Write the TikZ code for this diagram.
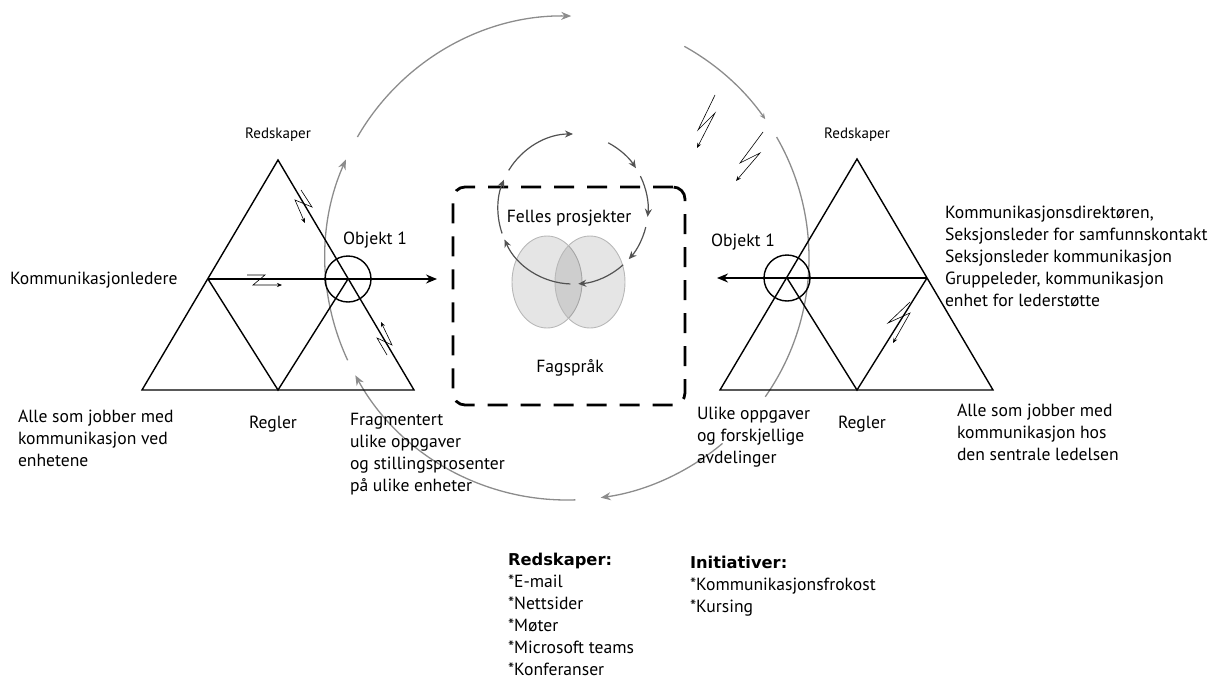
\documentclass[tikz,border=0pt]{standalone}
\usepackage{fontspec}
\setmainfont{PT Sans}
\newfontfamily\headfont{DejaVu Sans}
\usetikzlibrary{arrows.meta,calc}
\newcommand\lines[1]{\begin{tabular}[t]{@{}l@{}}#1\end{tabular}}
\newcommand\listhead[1]{{\headfont\bfseries\fontsize{16.3}{22}\selectfont #1}}
\begin{document}
\begin{tikzpicture}[x=1pt,y=1pt,
  every node/.style={inner sep=0pt,outer sep=0pt},
  body/.style={font=\fontsize{17.6}{22}\selectfont},
  label/.style={font=\fontsize{15}{16}\selectfont},
  edge/.style={line width=1.4pt,black,line join=miter},
  ring/.style={line width=1.4pt,black},
  pointer/.style={line width=1.4pt,black,-{Stealth[length=11pt,width=9pt]}},
  cycle/.style={draw=black!45,line width=1.3pt},
  loop/.style={draw=black!68,line width=1.2pt,-{Stealth[length=8pt,width=7pt]}},
  bolt/.style={line width=0.6pt,black,-{Stealth[length=5pt,width=4pt]}},
  venn/.style={fill=black,fill opacity=0.1,draw=black!28,line width=0.9pt},
  frame/.style={draw,line width=2.8pt,dash pattern=on 20pt off 13pt,rounded corners=12pt}
]
\useasboundingbox (0,0) rectangle (1226,-680);

% ---------- shared frame in the middle ----------
\node[frame,minimum width=232pt,minimum height=218pt] (box) at (569,-296) {};
\path[venn] (547,-282) ellipse[x radius=35pt,y radius=46pt];
\path[venn] (590,-282) ellipse[x radius=35pt,y radius=46pt];
\node[body,anchor=base] (felles) at (569,-222) {Felles prosjekter};
\node[body,anchor=base] (fag) at (570,-372) {Fagspråk};

% inner cycle of arrows
\coordinate (ic) at (573,-209);
\foreach \a/\b in {149/90, 62/33, 26/-6, -14/-42, -48/-86, -92/-156, 199/157}
  \draw[loop] ([shift={(\a:75)}]ic) arc[start angle=\a,end angle=\b,radius=75pt];

% outer cycle of arrows
\coordinate (oc) at (567,-258);
\foreach \a/\b in {205/156, 150/89, -50/-82, -88/-151}
  \draw[cycle,-{Stealth[length=10pt,width=8pt]}] ([shift={(\a:242)}]oc) arc[start angle=\a,end angle=\b,radius=242pt];
\draw[cycle,-{Stealth[length=6pt,width=5pt]}] ([shift={(61:242)}]oc) arc[start angle=61,end angle=35,radius=242pt];
\draw[cycle] ([shift={(30:242)}]oc) arc[start angle=30,end angle=-35,radius=242pt];

% ---------- left activity triangle ----------
\coordinate (la) at (278,-160);
\coordinate (ll) at (142,-390);
\coordinate (lr) at (414,-390);
\coordinate (lb) at (278,-390);
\coordinate (lm) at (208,-279);
\coordinate (rm) at (348,-279);
\coordinate (lend) at (437,-279);
\draw[edge] (la) -- (ll) -- (lr) -- cycle;
\draw[edge] (lm) -- (lb) -- (rm);
\draw[pointer] (lm) -- (lend);
\draw[ring] (rm) circle[radius=23pt];

\draw[bolt] (301,-190) -- (312,-207) -- (295,-200) -- (305,-223);
\draw[bolt] (247,-275) -- (265,-275) -- (253,-285) -- (282,-285);
\draw[bolt] (387,-355) -- (377,-338) -- (392,-345) -- (381,-322);

\node[label,anchor=base] (lred) at (278,-138) {Redskaper};
\node[body,anchor=base] (lobj) at (375,-244) {Objekt 1};
\node[body,anchor=base west] (lsub) at (10,-284) {Kommunikasjonledere};
\node[body,anchor=base] (lreg) at (273,-428) {Regler};
\node[body,anchor=base west] (lcom) at (18,-422) {\lines{Alle som jobber med\\kommunikasjon ved\\enhetene}};
\node[body,anchor=base west] (ldiv) at (350,-425) {\lines{Fragmentert\\ulike oppgaver\\og stillingsprosenter\\på ulike enheter}};

% ---------- right activity triangle ----------
\coordinate (ra) at (857,-159);
\coordinate (rl) at (720,-390);
\coordinate (rr) at (993,-390);
\coordinate (rb) at (857,-390);
\coordinate (rlm) at (787,-278);
\coordinate (rrm) at (927,-278);
\coordinate (rend) at (717,-278);
\draw[edge] (ra) -- (rl) -- (rr) -- cycle;
\draw[edge] (rlm) -- (rb) -- (rrm);
\draw[pointer] (rrm) -- (rend);
\draw[ring] (rlm) circle[radius=23pt];

\draw[bolt] (715,-95) -- (698,-130) -- (715,-113) -- (697,-148);
\draw[bolt] (763,-132) -- (740,-163) -- (760,-153) -- (736,-181);
\draw[bolt] (910,-302) -- (888,-323) -- (910,-313) -- (893,-343);

\node[label,anchor=base] (rred) at (857,-138) {Redskaper};
\node[body,anchor=base] (robj) at (743,-246) {Objekt 1};
\node[body,anchor=base west] (rsub) at (945,-218) {\lines{Kommunikasjonsdirektøren,\\Seksjonsleder for samfunnskontakt\\Seksjonsleder kommunikasjon\\Gruppeleder, kommunikasjon\\enhet for lederstøtte}};
\node[body,anchor=base] (rreg) at (862,-428) {Regler};
\node[body,anchor=base west] (rcom) at (957,-416) {\lines{Alle som jobber med\\kommunikasjon hos\\den sentrale ledelsen}};
\node[body,anchor=base west] (rdiv) at (697,-419) {\lines{Ulike oppgaver\\og forskjellige\\avdelinger}};

% ---------- lists below ----------
\node[body,anchor=base west] (tools) at (508,-565) {\lines{\listhead{Redskaper:}\\{}*E-mail\\{}*Nettsider\\{}*Møter\\{}*Microsoft teams\\{}*Konferanser}};
\node[body,anchor=base west] (init) at (690,-568) {\lines{\listhead{Initiativer:}\\{}*Kommunikasjonsfrokost\\{}*Kursing}};
\end{tikzpicture}
\end{document}
